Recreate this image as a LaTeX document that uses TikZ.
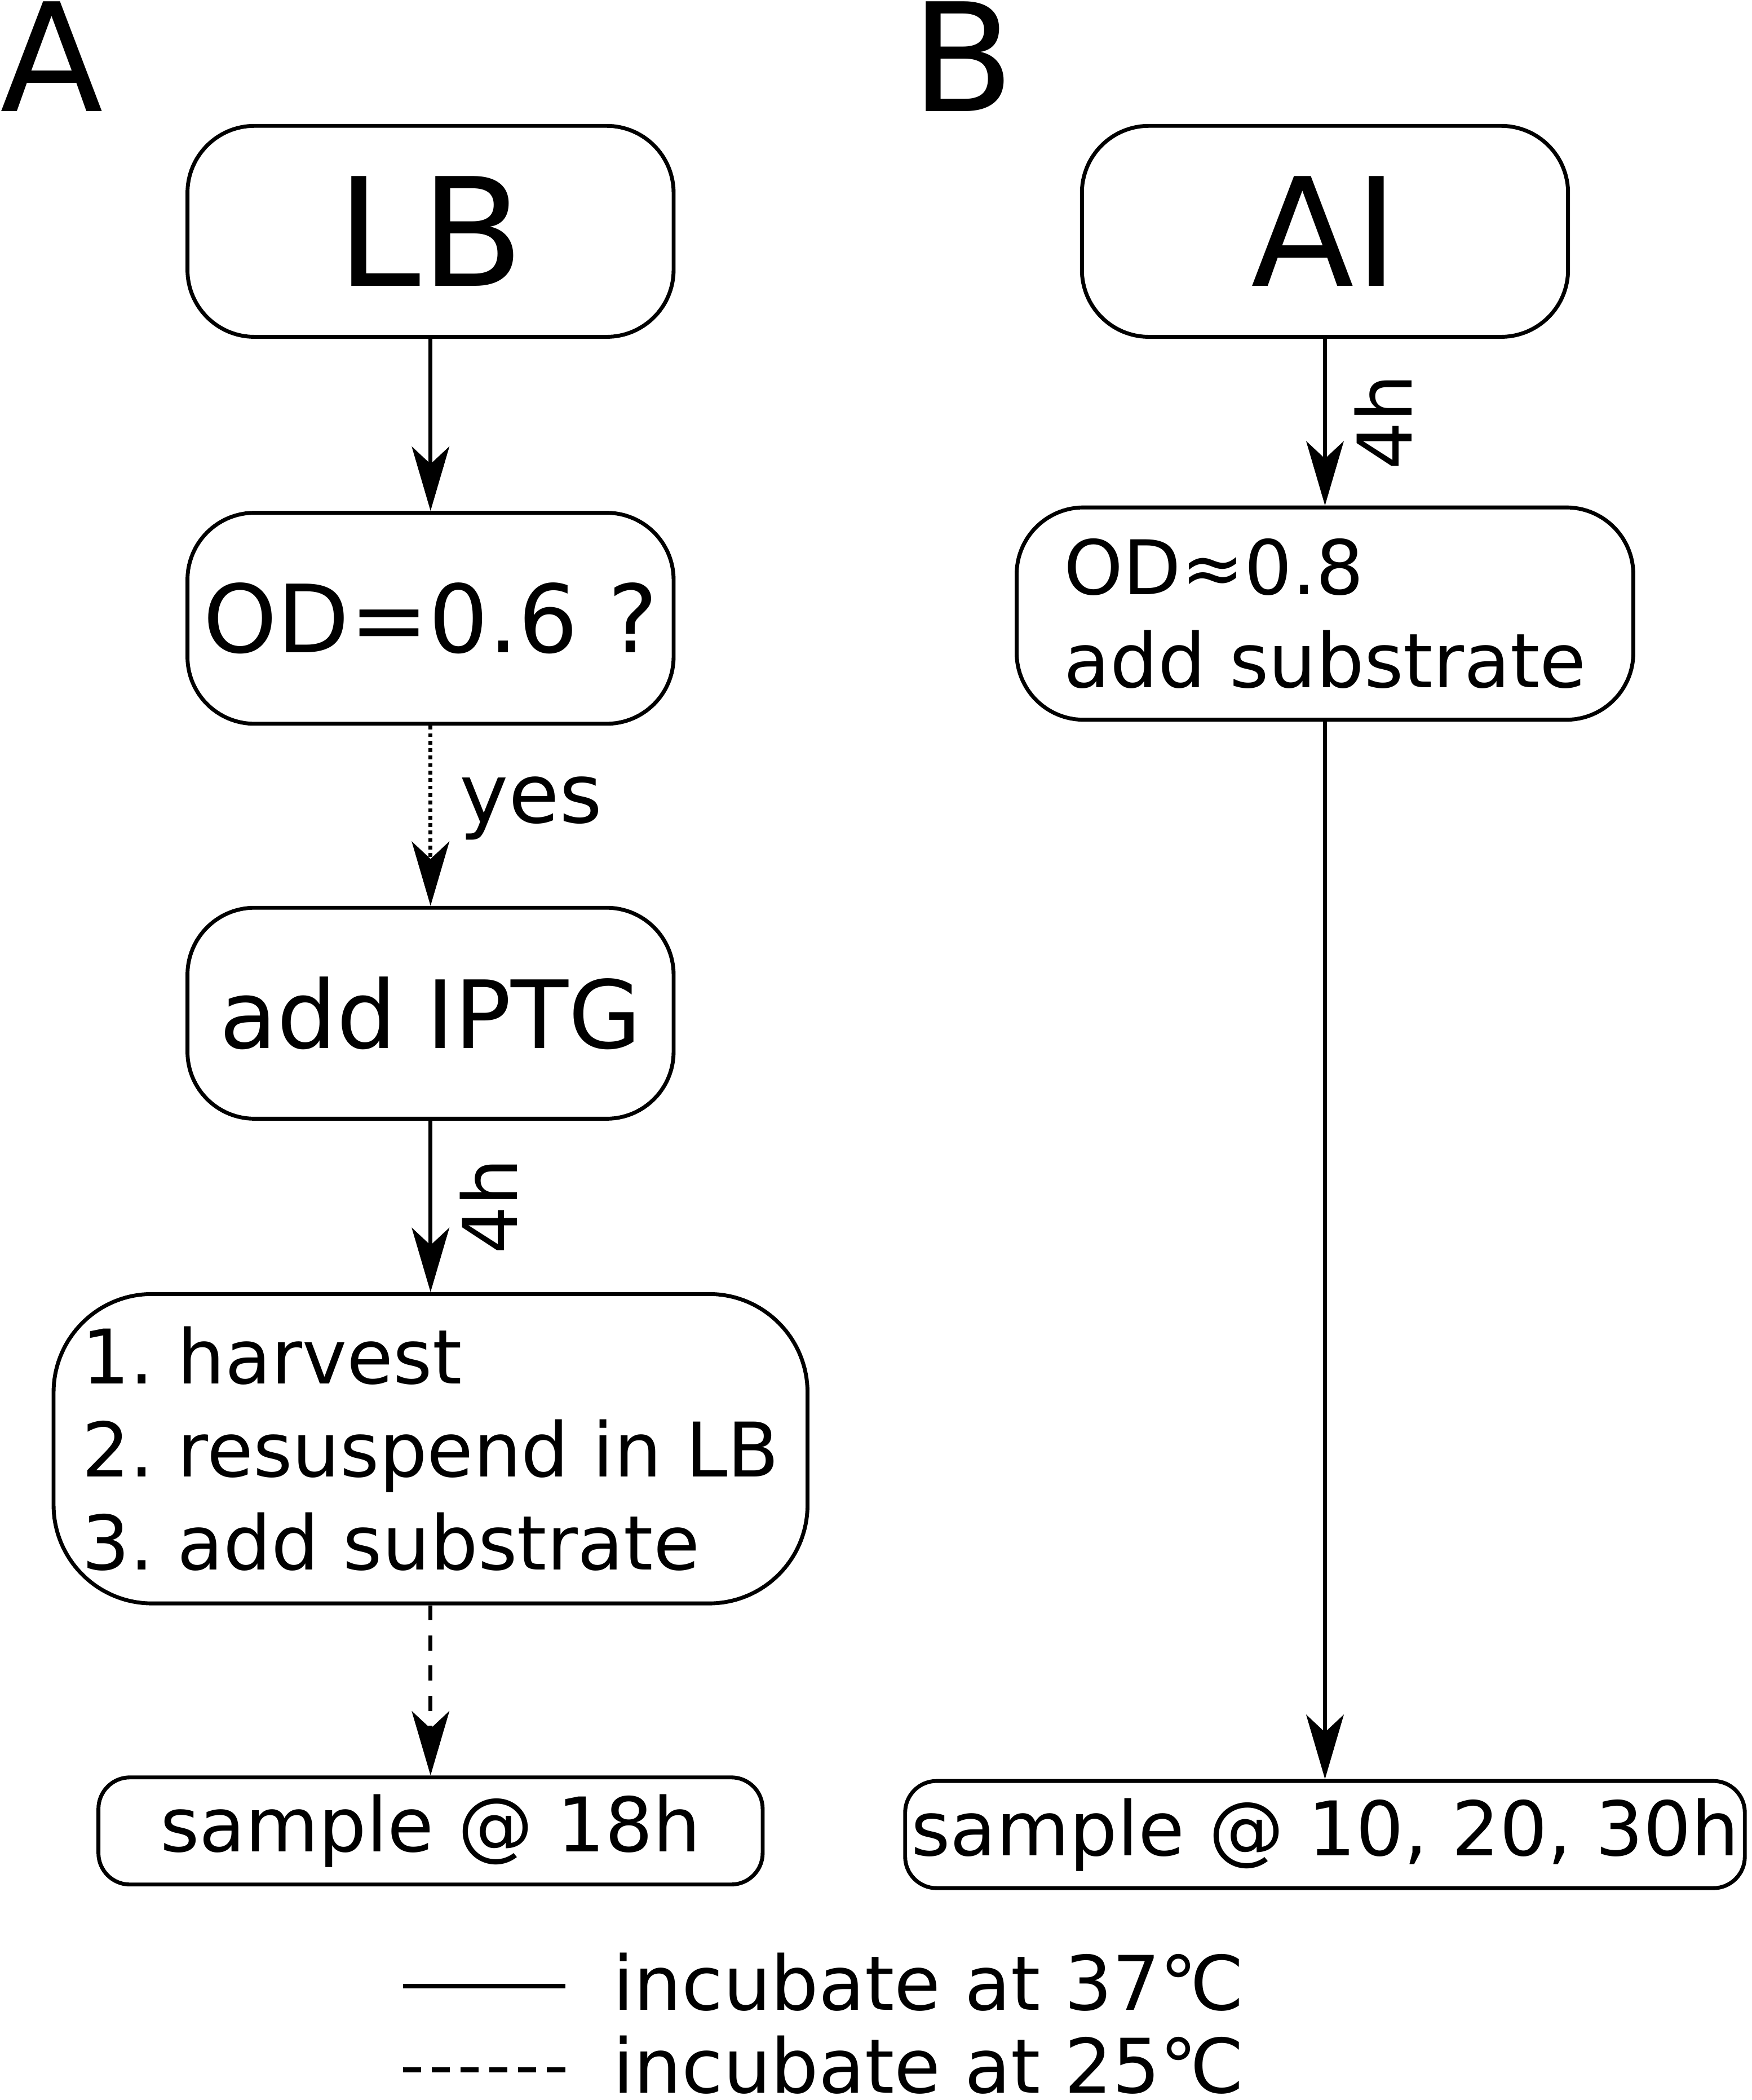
\documentclass[tikz,border=0pt]{standalone}
\usepackage{fontspec}
\setmainfont{DejaVu Sans}
\frenchspacing
\usetikzlibrary{positioning,arrows.meta}

\begin{document}
\begin{tikzpicture}[
  node distance=25.7mm and 60.4mm,
  box/.style={draw, line width=0.58mm, rounded corners=10mm, inner sep=0pt, minimum width=72.6mm, minimum height=31.5mm},
  bigbox/.style={box, font=\fontsize{64}{77}\selectfont},
  midbox/.style={box, font=\fontsize{40}{48}\selectfont},
  listbox/.style={box, align=left, font=\fontsize{32}{39.6}\selectfont},
  samplebox/.style={draw, line width=0.58mm, rounded corners=4.7mm, inner sep=0pt, minimum height=16mm, font=\fontsize{32}{39}\selectfont},
  panel/.style={anchor=base west, inner sep=0pt, font=\fontsize{64}{77}\selectfont},
  legtext/.style={anchor=base west, inner sep=0pt, font=\fontsize{32}{39}\selectfont},
  lbl/.style={inner sep=0pt, font=\fontsize{32}{39}\selectfont},
  arrow/.style={-{Stealth[length=9.6mm, width=5.6mm, inset=2.6mm]}, line width=0.58mm}
]
\useasboundingbox (0,0) rectangle (261.6mm,-313.6mm);

% panel letters
\node[panel] (pa) at (0,-16.6mm) {A};
\node[panel] (pb) at (136mm,-16.6mm) {B};

% A: LB medium
\node[bigbox] (lb) at (64.3mm,-34.55mm) {LB};
\node[midbox, below=of lb] (od) {OD=0.6 ?};
\node[midbox, below=26.9mm of od] (iptg) {add IPTG};
\node[listbox, below=25.6mm of iptg, minimum width=112.6mm, minimum height=46.2mm, rounded corners=14.7mm] (steps) {1. harvest\\2. resuspend in LB\\3. add substrate};
\node[samplebox, below=25.4mm of steps, minimum width=99.2mm] (s18) {sample @ 18h};

% B: AI medium
\node[bigbox, right=of lb] (ai) {AI};
\node[listbox, below=24.9mm of ai, minimum width=92.1mm, minimum height=31.7mm] (od8) {OD≈0.8\\add substrate};
\node[samplebox, below=157.9mm of od8, minimum width=125.4mm] (s10) {sample @ 10, 20, 30h};

\draw[arrow] (lb) -- (od);
\draw[arrow, dash pattern=on 0.56mm off 0.56mm] (od) -- node[midway, anchor=west, inner sep=0pt, xshift=4.1mm, yshift=1.1mm, font=\fontsize{35}{42}\selectfont] {yes} (iptg);
\draw[arrow] (iptg) -- node[lbl, midway, xshift=8.7mm, rotate=90] {4h} (steps);
\draw[arrow, dash pattern=on 2.25mm off 2.25mm] (steps) -- (s18);
\draw[arrow] (ai) -- node[lbl, midway, xshift=8.7mm, rotate=90] {4h} (od8);
\draw[arrow] (od8) -- (s10);

% legend
\coordinate (s1) at (60.2mm,-296.6mm);
\coordinate (s2) at (84.4mm,-296.6mm);
\coordinate (d1) at (60.2mm,-309.1mm);
\coordinate (d2) at (84.4mm,-309.1mm);
\draw[line width=0.7mm] (s1) -- (s2);
\draw[line width=0.7mm, dash pattern=on 2.7mm off 1.6mm] (d1) -- (d2);
\node[legtext] (warm) at (91.5mm,-300.2mm) {incubate at 37℃};
\node[legtext] (cool) at (91.5mm,-312.56mm) {incubate at 25℃};
\end{tikzpicture}
\end{document}
